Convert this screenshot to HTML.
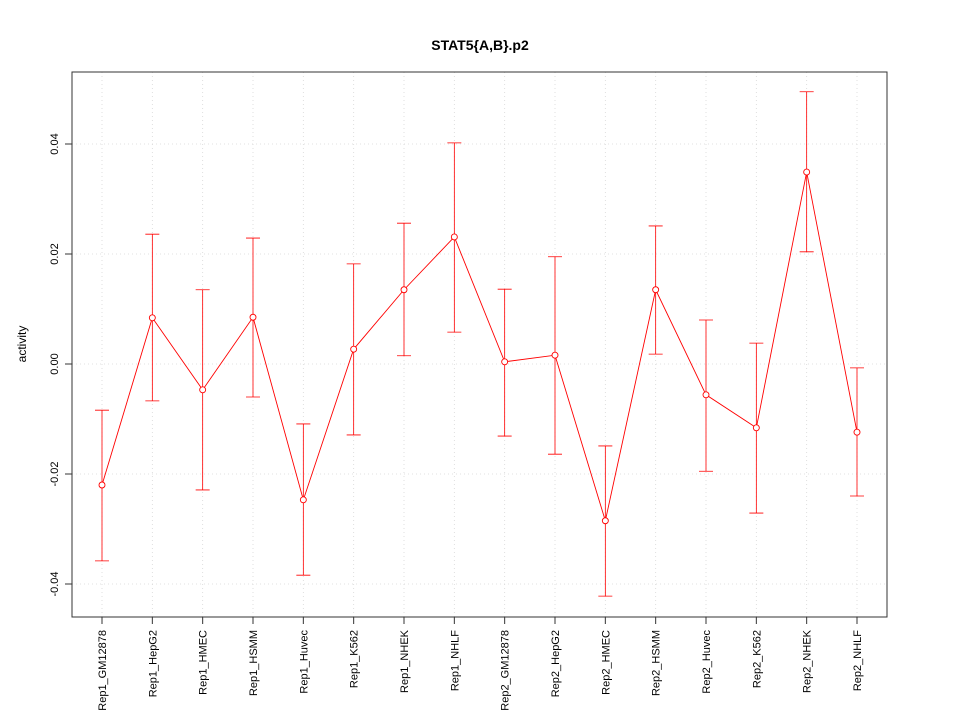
<!DOCTYPE html>
<html><head><meta charset="utf-8"><style>body{margin:0;background:#fff}svg{display:block;font-family:"Liberation Sans",sans-serif}</style></head>
<body>
<svg id="chart" width="960" height="720" xmlns="http://www.w3.org/2000/svg">
<rect width="960" height="720" fill="#fff"/>
<text x="480" y="50" text-anchor="middle" font-size="14" font-weight="bold">STAT5{A,B}.p2</text>
<text transform="translate(26,344) rotate(-90)" text-anchor="middle" font-size="12">activity</text>
<g id="grid"></g><g id="axes"></g><g id="marks"></g>
<rect x="72" y="72" width="815" height="545" fill="none" stroke="#333"/>
</svg>
<script>
const categories=["Rep1_GM12878","Rep1_HepG2","Rep1_HMEC","Rep1_HSMM","Rep1_Huvec","Rep1_K562","Rep1_NHEK","Rep1_NHLF","Rep2_GM12878","Rep2_HepG2","Rep2_HMEC","Rep2_HSMM","Rep2_Huvec","Rep2_K562","Rep2_NHEK","Rep2_NHLF"];
const values=[-0.022,0.0084,-0.0047,0.0085,-0.0247,0.0027,0.0135,0.0231,0.0004,0.0016,-0.0285,0.0135,-0.0056,-0.0116,0.0349,-0.0124];
const upper=[-0.0084,0.0236,0.0135,0.0229,-0.0109,0.0182,0.0256,0.0402,0.0136,0.0195,-0.0149,0.0251,0.008,0.0038,0.0495,-0.0007];
const lower=[-0.0358,-0.0067,-0.0229,-0.006,-0.0384,-0.0129,0.0015,0.0058,-0.0131,-0.0164,-0.0422,0.0018,-0.0195,-0.0271,0.0204,-0.024];
const yTicks=[-0.04,-0.02,0.00,0.02,0.04];
const yTickLabels=["-0.04","-0.02","0.00","0.02","0.04"];
const NS="http://www.w3.org/2000/svg";
const x=i=>102+i*(857-102)/(categories.length-1);
const y=v=>364-v*5500;
function mk(tag,attrs,parent){const e=document.createElementNS(NS,tag);for(const k in attrs)e.setAttribute(k,attrs[k]);parent.appendChild(e);return e;}
const grid=document.getElementById('grid'),axes=document.getElementById('axes'),marks=document.getElementById('marks');
categories.forEach((c,i)=>{
 const g=mk('line',{x1:x(i),x2:x(i),y1:72,y2:617,stroke:'#d8d8d8','stroke-width':0.8,'stroke-dasharray':'1,3'},grid);
 
 
 const t=mk('line',{x1:x(i),x2:x(i),y1:617,y2:624,stroke:'#333'},axes);
 
 
 const l=mk('text',{transform:`translate(${x(i)+4},630) rotate(-90)`,'text-anchor':'end','font-size':11},axes);
 l.textContent=c;
 
 
});
yTicks.forEach((v,i)=>{
 const g=mk('line',{x1:72,x2:887,y1:y(v),y2:y(v),stroke:'#d8d8d8','stroke-width':0.8,'stroke-dasharray':'1,3'},grid);
 
 
 const t=mk('line',{x1:65,x2:72,y1:y(v),y2:y(v),stroke:'#333'},axes);
 
 
 const l=mk('text',{transform:`translate(58,${y(v)}) rotate(-90)`,'text-anchor':'middle','font-size':11},axes);
 l.textContent=yTickLabels[i];
 
 
});
values.forEach((v,i)=>{
 const e=mk('path',{d:`M${x(i)},${y(upper[i])}V${y(lower[i])}M${x(i)-7},${y(upper[i])}H${x(i)+7}M${x(i)-7},${y(lower[i])}H${x(i)+7}`,stroke:'#f00','stroke-width':0.8,fill:'none'},marks);
 
 
});
const ln=mk('polyline',{points:values.map((v,i)=>x(i)+','+y(v)).join(' '),stroke:'#f00','stroke-width':0.9,fill:'none'},marks);


values.forEach((v,i)=>{
 const p=mk('circle',{cx:x(i),cy:y(v),r:3,stroke:'#f00','stroke-width':0.9,fill:'#fff'},marks);
 
 
});
</script>
</body></html>
